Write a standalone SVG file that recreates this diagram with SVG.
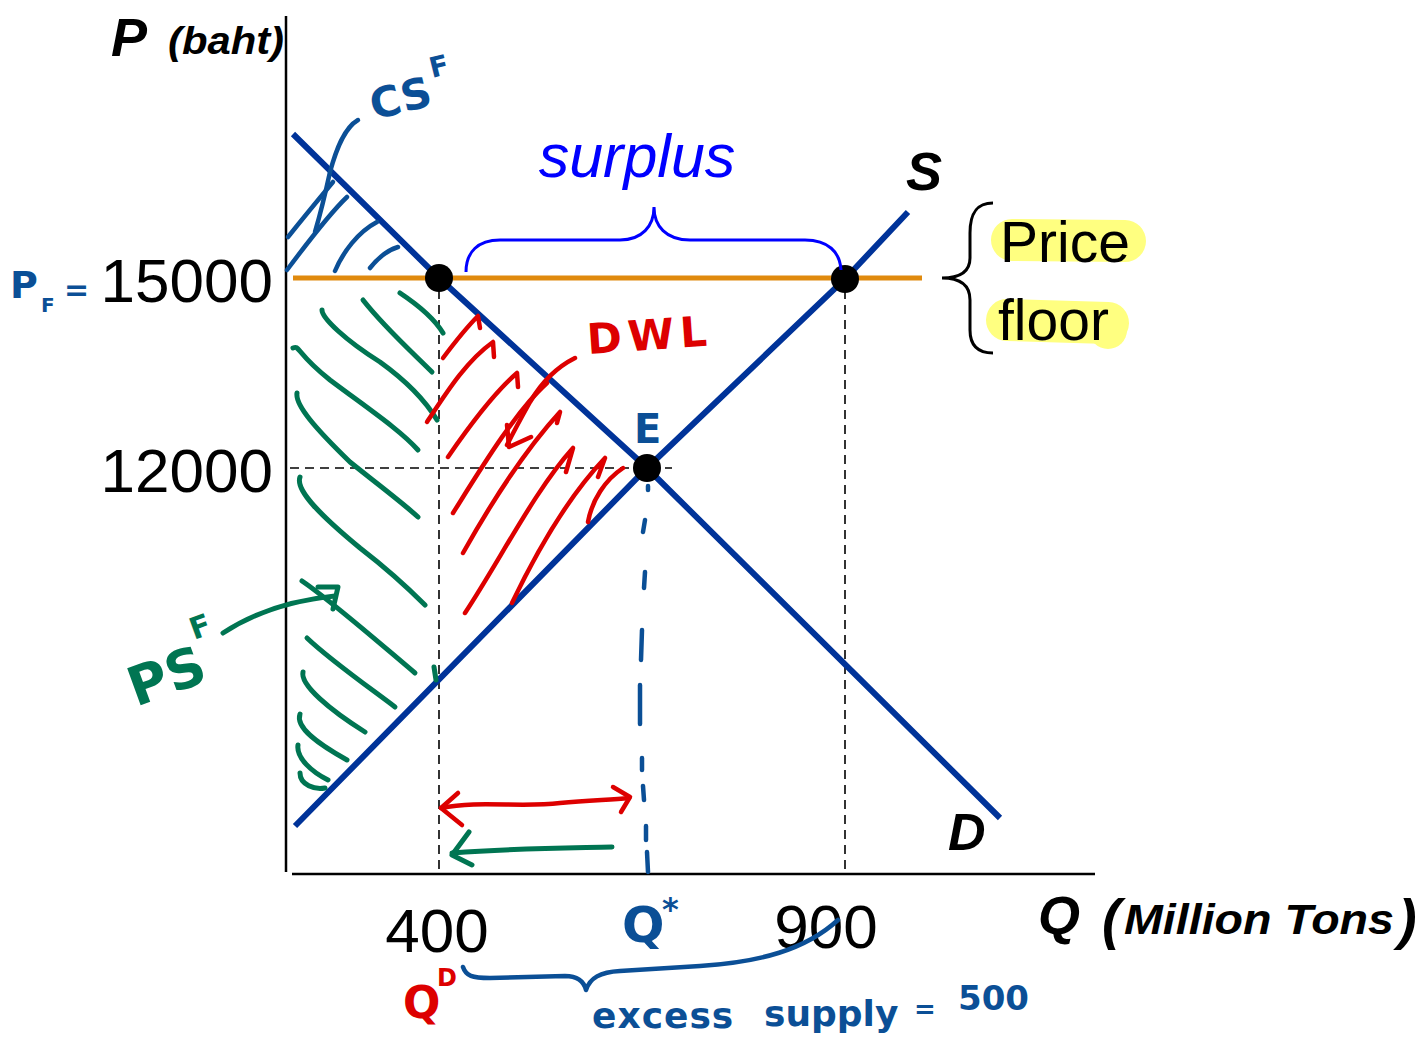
<svg xmlns="http://www.w3.org/2000/svg" width="1424" height="1044" viewBox="0 0 1424 1044">
<style>
.ax{stroke:#000;stroke-width:2.5;fill:none}
.dash{stroke:#000;stroke-width:1.6;stroke-dasharray:9,6;fill:none}
.curve{stroke:#003399;stroke-width:6;fill:none}
.lbl{font-family:"Liberation Sans",Arial,sans-serif;fill:#000}
.bi{font-family:"Liberation Sans",Arial,sans-serif;font-weight:bold;font-style:italic;fill:#000}
.hb{stroke:#0B4F96;stroke-width:4.5;fill:none;stroke-linecap:round;stroke-linejoin:round}
.hg{stroke:#007552;stroke-width:5;fill:none;stroke-linecap:round;stroke-linejoin:round}
.hr{stroke:#DD0000;stroke-width:4.5;fill:none;stroke-linecap:round;stroke-linejoin:round}
.tb{font-family:"DejaVu Sans",sans-serif;font-weight:bold;fill:#0B4F96}
.tg{font-family:"DejaVu Sans",sans-serif;font-weight:bold;fill:#007552}
.tr{font-family:"DejaVu Sans",sans-serif;font-weight:bold;fill:#DD0000}
</style>
<rect width="1424" height="1044" fill="#fff"/>

<g id="highlights">
<path d="M1012,240 L1125,241" stroke="#FFFF80" stroke-width="42" stroke-linecap="round" fill="none"/>
<path d="M1007,320 L1108,323" stroke="#FFFF80" stroke-width="42" stroke-linecap="round" fill="none"/>
<circle cx="1108" cy="330" r="19" fill="#FFFF80"/>
</g>

<g id="axes">
<line class="ax" x1="286" y1="16" x2="286" y2="872"/>
<line class="ax" x1="292" y1="874" x2="1095" y2="874"/>
<text class="bi" x="111" y="56" font-size="54">P</text>
<text class="bi" x="168" y="54" font-size="38" textLength="116" lengthAdjust="spacingAndGlyphs">(baht)</text>
<text class="lbl" x="273" y="302" font-size="62" text-anchor="end">15000</text>
<text class="lbl" x="273" y="492" font-size="62" text-anchor="end">12000</text>
<text class="lbl" x="437" y="952" font-size="62" text-anchor="middle">400</text>
<text class="lbl" x="826" y="948" font-size="62" text-anchor="middle">900</text>
<text class="bi" x="1038" y="934" font-size="54">Q</text>
<text class="bi" x="1102" y="938" font-size="56">(</text>
<text class="bi" x="1124" y="934" font-size="42" textLength="270" lengthAdjust="spacingAndGlyphs">Million Tons</text>
<text class="bi" x="1398" y="938" font-size="56">)</text>
</g>

<g id="guides">
<line class="dash" x1="439" y1="290" x2="439" y2="874"/>
<line class="dash" x1="290" y1="468" x2="672" y2="468"/>
<line class="dash" x1="845" y1="290" x2="845" y2="874"/>
</g>

<g id="price-floor">
<line x1="293" y1="278" x2="922" y2="278" stroke="#E08A0E" stroke-width="5"/>
</g>

<g id="demand">
<path class="curve" d="M293,134 L439,278 L647,468 L1000,818"/>
<text class="bi" x="948" y="850" font-size="52">D</text>
</g>
<g id="supply">
<path class="curve" d="M295,826 L647,468 L845,279 L908,212"/>
<text class="bi" x="906" y="190" font-size="54">S</text>
</g>

<g id="cs-hatch">
<path class="hb" d="M358,120 C344,128 336,150 330,172 C325,195 320,215 315,232"/>
<path class="hb" d="M288,237 C300,222 318,200 333,182"/>
<path class="hb" d="M287,270 C305,246 328,215 347,197"/>
<path class="hb" d="M335,271 C343,252 358,232 377,222"/>
<path class="hb" d="M370,268 C378,258 388,250 398,247"/>
</g>

<g id="ps-hatch">
<path class="hg" d="M400,293 C418,305 434,318 443,333"/>
<path class="hg" d="M363,300 C385,328 410,350 432,372"/>
<path class="hg" d="M322,310 C322,318 345,340 380,362 C405,380 425,400 437,420"/>
<path class="hg" d="M293,348 C300,345 295,352 330,380 C370,410 400,430 418,450"/>
<path class="hg" d="M297,393 C295,405 315,428 350,462 C385,490 405,505 418,517"/>
<path class="hg" d="M300,477 C295,490 320,515 360,548 C395,575 415,595 425,605"/>
<path class="hg" d="M302,581 C330,600 370,635 415,673"/>
<path class="hg" d="M307,638 C330,660 370,688 395,707"/>
<path class="hg" d="M303,672 C300,685 330,710 365,732"/>
<path class="hg" d="M300,714 C295,728 320,745 347,760"/>
<path class="hg" d="M298,745 C296,758 312,772 328,780"/>
<path class="hg" d="M300,773 C300,785 315,790 325,788"/>
<path class="hg" d="M434,667 L436,680"/>
<path class="hg" d="M223,633 C255,612 295,600 335,596"/>
<path class="hg" d="M318,587 L338,587 L333,609"/>
</g>

<g id="dwl-hatch">
<path class="hr" d="M443,358 C455,342 466,328 478,316 L480,328"/>
<path class="hr" d="M427,422 C445,395 465,362 493,342 L494,357"/>
<path class="hr" d="M448,457 C470,425 495,392 517,373 L518,387"/>
<path class="hr" d="M453,513 C480,470 515,412 547,383"/>
<path class="hr" d="M463,553 C490,505 525,450 560,412 L557,423"/>
<path class="hr" d="M465,613 C500,560 535,490 573,448 L566,472"/>
<path class="hr" d="M512,603 C535,555 565,500 605,458 L598,477"/>
<path class="hr" d="M588,522 C592,500 605,480 623,468"/>
<path class="hr" d="M575,358 C555,368 540,385 530,402 C520,420 512,435 507,445"/>
<path class="hr" d="M507,425 L509,447 L531,437"/>
</g>

<g id="points">
<circle cx="439" cy="278" r="14" fill="#000"/>
<circle cx="647" cy="468" r="14" fill="#000"/>
<circle cx="845" cy="279" r="14" fill="#000"/>
</g>

<g id="surplus">
<path d="M466,272 C466,252 478,240 500,240 L620,240 C642,240 654,226 654,207 C654,226 666,240 690,240 L805,240 C828,240 840,252 841,270" stroke="#0000FF" stroke-width="3" fill="none"/>
<text x="637" y="177" font-size="61" text-anchor="middle" font-style="italic" font-family="Liberation Sans, Arial, sans-serif" fill="#0000FF">surplus</text>
</g>

<g id="price-floor-label">
<path d="M993,203 C976,203 970,214 970,233 L970,258 C970,272 960,278 942,278 C960,278 970,285 970,300 L970,330 C970,346 978,353 993,353" stroke="#000" stroke-width="3" fill="none"/>
<text class="lbl" x="1000" y="262" font-size="57">Price</text>
<text class="lbl" x="998" y="340" font-size="57">floor</text>
</g>

<g id="quantity-arrows">
<path class="hr" stroke-width="5" d="M441,808 C480,800 520,808 560,803 C590,800 610,800 629,798"/>
<path class="hr" stroke-width="5" d="M458,793 L441,808 L462,825"/>
<path class="hr" stroke-width="6" d="M613,787 L630,797 L621,812"/>
<path class="hg" stroke-width="6" d="M612,847 C570,848 520,848 452,853"/>
<path class="hg" stroke-width="6" d="M469,832 L452,855 L472,865"/>
<path class="hb" d="M648,486 L648,490 M645,520 L643,532 M645,572 L644,588 M642,630 L641,660 M640,685 L640,724 M642,758 L642,770 M643,786 L644,800 M646,826 L646,840 M647,852 L648,872"/>
<path class="hb" d="M463,967 C466,976 472,978 490,978 L565,976 C578,976 584,982 586,990 C590,978 600,972 620,971 L700,966 C760,962 805,950 838,920"/>
</g>

<g id="annotations">
<text class="tb" x="374" y="120" font-size="42" transform="rotate(-14 374 120)">CS</text>
<text class="tb" x="432" y="78" font-size="28" transform="rotate(-14 432 78)">F</text>
<text class="tb" x="10" y="298" font-size="38">P</text>
<text class="tb" x="41" y="312" font-size="20">F</text>
<text class="tb" x="64" y="300" font-size="30">=</text>
<text class="tr" x="588" y="354" font-size="42" letter-spacing="6" transform="rotate(-4 588 354)">DWL</text>
<text class="tb" x="634" y="443" font-size="40">E</text>
<text class="tg" x="136" y="707" font-size="54" transform="rotate(-20 136 707)">PS</text>
<text class="tg" x="194" y="640" font-size="30" transform="rotate(-20 194 640)">F</text>
<text class="tb" x="622" y="942" font-size="50">Q</text>
<text class="tb" x="662" y="920" font-size="32">*</text>
<text class="tr" x="403" y="1018" font-size="44">Q</text>
<text class="tr" x="437" y="986" font-size="24">D</text>
<text class="tb" x="592" y="1028" font-size="36" letter-spacing="1">excess</text>
<text class="tb" x="764" y="1026" font-size="36">supply</text>
<text class="tb" x="914" y="1018" font-size="26">=</text>
<text class="tb" x="958" y="1010" font-size="34">500</text>
</g>
</svg>
